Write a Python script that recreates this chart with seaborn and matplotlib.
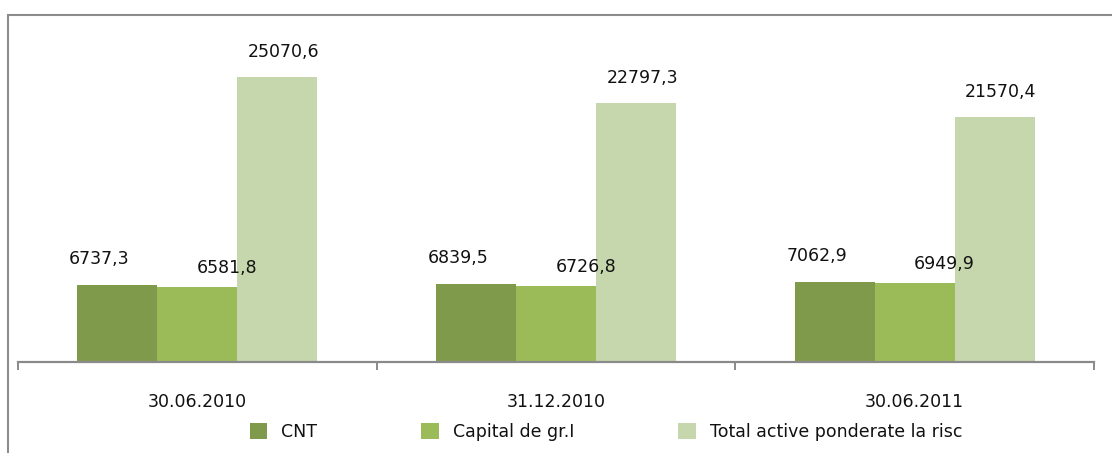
import matplotlib
matplotlib.use("Agg")
import matplotlib.pyplot as plt
from matplotlib.patches import Rectangle
import pandas as pd
import seaborn as sns

DATES = ["30.06.2010", "31.12.2010", "30.06.2011"]
SERIES = ["CNT", "Capital de gr.I", "Total active ponderate la risc"]
CNT = [6737.3, 6839.5, 7062.9]
CAPITAL = [6581.8, 6726.8, 6949.9]
TOTAL = [25070.6, 22797.3, 21570.4]

COLORS = ["#7F9A4A", "#9BBB59", "#C6D7AD"]
# label offsets (pixels) per series, roughly like the original
LABEL_OFFSETS = [(-18, 26), (30, 19), (6, 25)]

rows = []
for name, vals in zip(SERIES, [CNT, CAPITAL, TOTAL]):
    for d, v in zip(DATES, vals):
        rows.append({"date": d, "series": name, "value": v})
df = pd.DataFrame(rows)

sns.set_style("white")
plt.rcParams["font.family"] = ["DejaVu Sans"]

fig = plt.figure(figsize=(11.12, 4.53), dpi=100)
ax = fig.add_axes([18 / 1112, 1 - 362 / 453, 1076 / 1112, 341 / 453])

sns.barplot(
    data=df, x="date", y="value", hue="series", order=DATES, hue_order=SERIES,
    palette=COLORS, width=0.67, saturation=1, linewidth=0, ax=ax, legend=True,
)

ax.set_ylim(0, 30000)
ax.set_xlim(-0.5, 2.5)
ax.set_xlabel("")
ax.set_ylabel("")
ax.set_yticks([])
for s in ["left", "top", "right"]:
    ax.spines[s].set_visible(False)
ax.spines["bottom"].set_color("#8a8a8a")
ax.spines["bottom"].set_linewidth(1.6)

ax.set_xticks(range(len(DATES)))
ax.set_xticklabels(DATES, fontsize=12.5, color="#111111")
ax.set_xticks([-0.5, 0.5, 1.5, 2.5], minor=True)
ax.tick_params(axis="x", which="major", bottom=True, length=0, pad=22)
ax.tick_params(axis="x", which="minor", bottom=True, length=6, width=1.4,
               color="#8a8a8a", direction="out")

for cont, (dx, dy) in zip(ax.containers, LABEL_OFFSETS):
    for bar in cont:
        h = bar.get_height()
        ax.annotate(
            f"{h:.1f}".replace(".", ","),
            xy=(bar.get_x() + bar.get_width() / 2, h),
            xytext=(dx, dy), textcoords="offset pixels",
            ha="center", va="center", fontsize=12.5, color="#111111",
        )

handles, labels = ax.get_legend_handles_labels()
ax.legend_.remove()
fig.legend(
    handles, labels, loc="center", bbox_to_anchor=(0.545, 1 - 432 / 453),
    ncol=3, frameon=False, fontsize=12.5, handlelength=1.0, handleheight=1.0,
    handletextpad=0.8, columnspacing=6.0, labelcolor="#111111",
)

# chart frame (cropped on the right and bottom in the original)
fig.add_artist(Rectangle((8 / 1112, -0.1), 1.2, 1.1 - 15 / 453, transform=fig.transFigure,
                         fill=False, edgecolor="#8c8c8c", linewidth=1.5))

fig.savefig("out.png", dpi=100)
